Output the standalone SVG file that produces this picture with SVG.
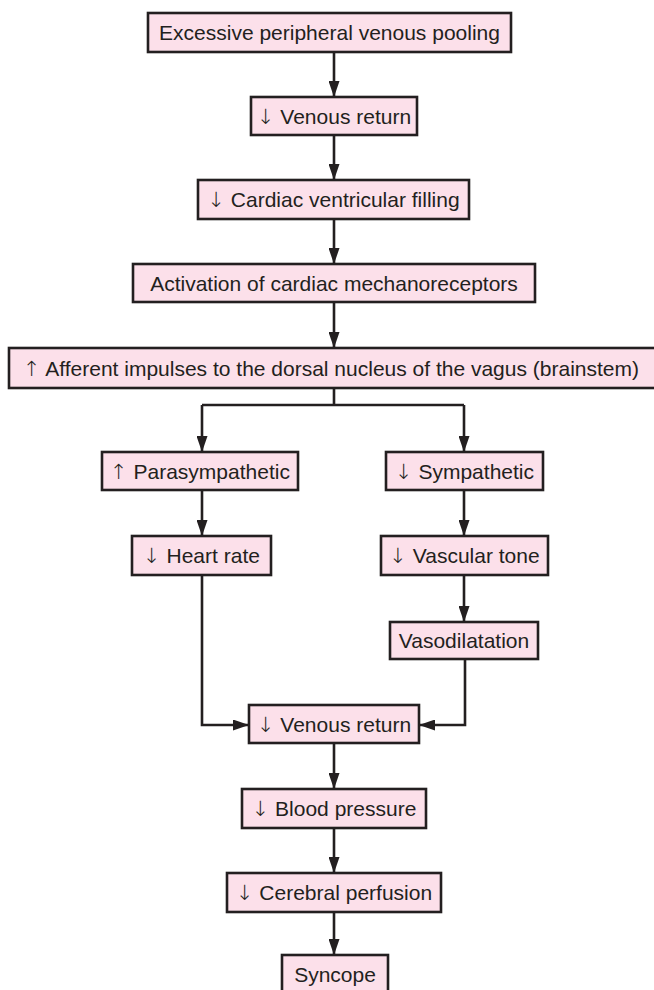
<svg xmlns="http://www.w3.org/2000/svg" width="654" height="990" viewBox="0 0 654 990">
  <style>
    .box { fill: #fce0ea; stroke: #231f20; stroke-width: 2.6; }
    .lbl { font-family: "Liberation Sans", Arial, sans-serif; font-size: 21px; fill: #231f20; text-anchor: middle; }
    .sym { font-family: "DejaVu Sans", sans-serif; font-weight: 200; }
    .wire { fill: none; stroke: #231f20; stroke-width: 2.6; }
    .tip { marker-end: url(#arrow); }
  </style>
  <defs>
    <marker id="arrow" markerUnits="userSpaceOnUse" markerWidth="16" markerHeight="11" refX="16" refY="5.5" orient="auto">
      <path d="M0,0 L16,5.5 L0,11 Z" fill="#231f20"/>
    </marker>
  </defs>
  <rect width="654" height="990" fill="#ffffff"/>

  <!-- connectors -->
  <g id="connectors">
    <path class="wire tip" d="M334,52 V97"/>
    <path class="wire tip" d="M334,135 V180"/>
    <path class="wire tip" d="M334,219 V264"/>
    <path class="wire tip" d="M334,302 V348"/>
    <path class="wire" d="M334,388 V405 M202,405 H464"/>
    <path class="wire tip" d="M202,405 V452"/>
    <path class="wire tip" d="M464,405 V452"/>
    <path class="wire tip" d="M202,490 V536"/>
    <path class="wire tip" d="M464,490 V536"/>
    <path class="wire tip" d="M464,575 V622"/>
    <path class="wire tip" d="M202,575 V725 H249"/>
    <path class="wire tip" d="M465,659 V725 H419"/>
    <path class="wire tip" d="M334,743 V789"/>
    <path class="wire tip" d="M334,828 V873"/>
    <path class="wire tip" d="M334,912 V955"/>
  </g>

  <g id="pooling">
    <rect class="box" x="148" y="13" width="363" height="39"/>
    <text class="lbl" x="329.5" y="40">Excessive peripheral venous pooling</text>
  </g>
  <g id="venous-return-1">
    <rect class="box" x="251" y="97" width="166" height="38"/>
    <text class="lbl" x="334" y="123.5"><tspan class="sym">↓</tspan> Venous return</text>
  </g>
  <g id="ventricular-filling">
    <rect class="box" x="198" y="180" width="271" height="39"/>
    <text class="lbl" x="333.5" y="207"><tspan class="sym">↓</tspan> Cardiac ventricular filling</text>
  </g>
  <g id="mechanoreceptors">
    <rect class="box" x="133" y="264" width="402" height="38"/>
    <text class="lbl" x="334" y="290.5">Activation of cardiac mechanoreceptors</text>
  </g>
  <g id="afferent">
    <rect class="box" x="9" y="348" width="647" height="40"/>
    <text class="lbl" x="331" y="375.5"><tspan class="sym">↑</tspan> Afferent impulses to the dorsal nucleus of the vagus (brainstem)</text>
  </g>
  <g id="parasympathetic">
    <rect class="box" x="102" y="452" width="196" height="38"/>
    <text class="lbl" x="200" y="478.5"><tspan class="sym">↑</tspan> Parasympathetic</text>
  </g>
  <g id="sympathetic">
    <rect class="box" x="386" y="452" width="157" height="38"/>
    <text class="lbl" x="464.5" y="478.5"><tspan class="sym">↓</tspan> Sympathetic</text>
  </g>
  <g id="heart-rate">
    <rect class="box" x="132" y="536" width="139" height="39"/>
    <text class="lbl" x="201.5" y="563"><tspan class="sym">↓</tspan> Heart rate</text>
  </g>
  <g id="vascular-tone">
    <rect class="box" x="381" y="536" width="167" height="39"/>
    <text class="lbl" x="464.5" y="563"><tspan class="sym">↓</tspan> Vascular tone</text>
  </g>
  <g id="vasodilatation">
    <rect class="box" x="390" y="622" width="148" height="37"/>
    <text class="lbl" x="464" y="648">Vasodilatation</text>
  </g>
  <g id="venous-return-2">
    <rect class="box" x="249" y="705" width="170" height="38"/>
    <text class="lbl" x="334" y="731.5"><tspan class="sym">↓</tspan> Venous return</text>
  </g>
  <g id="blood-pressure">
    <rect class="box" x="242" y="789" width="184" height="39"/>
    <text class="lbl" x="334" y="816"><tspan class="sym">↓</tspan> Blood pressure</text>
  </g>
  <g id="cerebral-perfusion">
    <rect class="box" x="227" y="873" width="214" height="39"/>
    <text class="lbl" x="334" y="900"><tspan class="sym">↓</tspan> Cerebral perfusion</text>
  </g>
  <g id="syncope">
    <rect class="box" x="282" y="955" width="106" height="40"/>
    <text class="lbl" x="335" y="981.5">Syncope</text>
  </g>
</svg>
